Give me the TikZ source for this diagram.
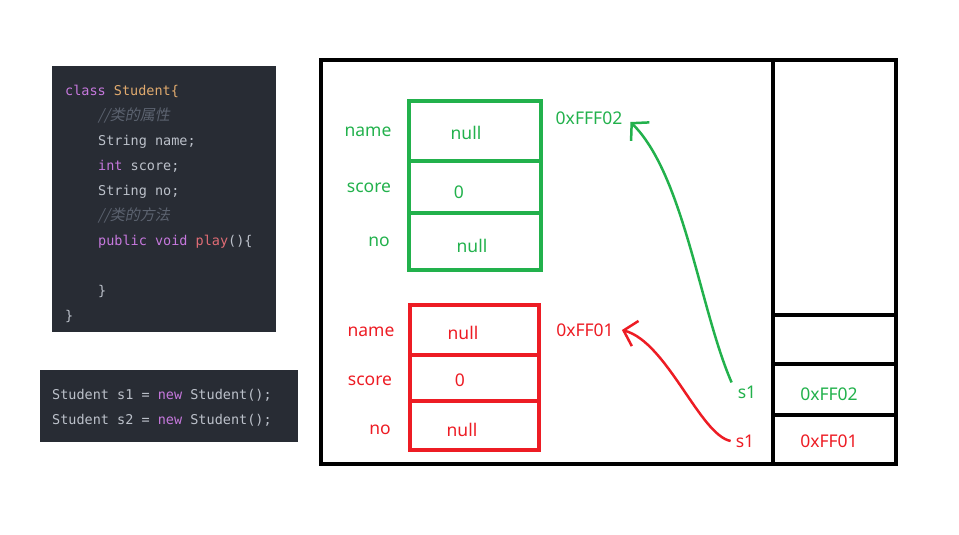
\documentclass[tikz,border=0pt]{standalone}
\usepackage{fontspec}
\setmainfont{Noto Sans}
\setmonofont{DejaVu Sans Mono}
\newfontfamily\cjk[FakeSlant=0.2]{Noto Sans CJK SC}
\usetikzlibrary{arrows.meta}
\definecolor{pgreen}{RGB}{34,177,76}
\definecolor{pred}{RGB}{237,28,36}
\definecolor{codebg}{RGB}{40,44,52}
\definecolor{cplain}{RGB}{188,193,202}
\definecolor{ckw}{RGB}{198,120,221}
\definecolor{ccls}{RGB}{224,170,110}
\definecolor{cfn}{RGB}{224,108,117}
\definecolor{ccmt}{RGB}{92,99,112}
\newcommand{\kw}[1]{\textcolor{ckw}{#1}}
\newcommand{\cls}[1]{\textcolor{ccls}{#1}}
\newcommand{\fn}[1]{\textcolor{cfn}{#1}}
\newcommand{\cmt}[1]{\textcolor{ccmt}{\cjk\fontsize{15}{16}\selectfont#1}}

\begin{document}
\begin{tikzpicture}[x=1pt,y=-1pt,
  code/.style={anchor=base west,inner sep=0,text=cplain,font=\ttfamily\fontsize{13.5}{16}\selectfont},
  lbl/.style={inner sep=1pt,font=\fontsize{17.5}{20}\selectfont},
  cellbox/.style={line width=4},
  ptr/.style={line width=2.5,-{Straight Barb[length=12pt,width=26pt]}}]
\useasboundingbox (0,0) rectangle (959,535);
% code of the class
  \fill[codebg] (52,66) rectangle (276,332);
  \node[code] (c0) at (65,95.5) {\kw{class} \cls{Student\{}};
  \node[code] (c1) at (98,120.5) {\cmt{//类的属性}};
  \node[code] (c2) at (98,145.5) {String name;};
  \node[code] (c3) at (98,170.5) {\kw{int} score;};
  \node[code] (c4) at (98,195.5) {String no;};
  \node[code] (c5) at (98,220.5) {\cmt{//类的方法}};
  \node[code] (c6) at (98,245.5) {\kw{public} \kw{void} \fn{play}()\{};
  \node[code] (c8) at (98,295.5) {\}};
  \node[code] (c9) at (65,320.5) {\}};
% the two objects
  \fill[codebg] (40,370) rectangle (298,442);
  \node[code] (n1) at (52,399.5) {Student s1 = \kw{new} Student();};
  \node[code] (n2) at (52,424.5) {Student s2 = \kw{new} Student();};
% memory
  \draw[cellbox] (321,60) rectangle (896,464);
  \draw[cellbox] (773,60) -- (773,464);
  \foreach \y in {315,364,415}
    \draw[cellbox] (773,\y) -- (896,\y);
  \draw[cellbox,pgreen] (409,101) rectangle (541,270);
  \draw[cellbox,pgreen] (409,161) -- (541,161) (409,213) -- (541,213);
  \draw[cellbox,pred] (410,305) rectangle (539,450);
  \draw[cellbox,pred] (410,355) -- (539,355) (410,401) -- (539,401);
  \begin{scope}[pgreen]
  \node[lbl] (gname) at (368,132) {name};
  \node[lbl] (gscore) at (369,188) {score};
  \node[lbl] (gno) at (379,242) {no};
  \node[lbl] (gv1) at (466,133) {null};
  \node[lbl] (gv2) at (459,192) {0};
  \node[lbl] (gv3) at (472,246) {null};
  \node[lbl] (fg) at (589,118) {0xFFF02};
  \node[lbl] (s1g) at (747,392) {s1};
  \node[lbl] (ag) at (829,394) {0xFF02};
  \end{scope}
  \begin{scope}[pred]
  \node[lbl] (rname) at (371,332) {name};
  \node[lbl] (rscore) at (370,381) {score};
  \node[lbl] (rno) at (380,430) {no};
  \node[lbl] (rv1) at (463,333) {null};
  \node[lbl] (rv2) at (460,380) {0};
  \node[lbl] (rv3) at (462,430) {null};
  \node[lbl] (fr) at (585,330) {0xFF01};
  \node[lbl] (s1r) at (745,441) {s1};
  \node[lbl] (ar) at (829,441) {0xFF01};
  \end{scope}
  \draw[ptr,pgreen] ([shift={(-5,-2)}]s1g.north west) .. controls (700,310) and (684,175) .. ([shift={(7,4)}]fg.east);
  \draw[ptr,pred] ([xshift=-4]s1r.west) .. controls (700,435) and (667,342) .. ([xshift=7]fr.east);
\end{tikzpicture}
\end{document}
